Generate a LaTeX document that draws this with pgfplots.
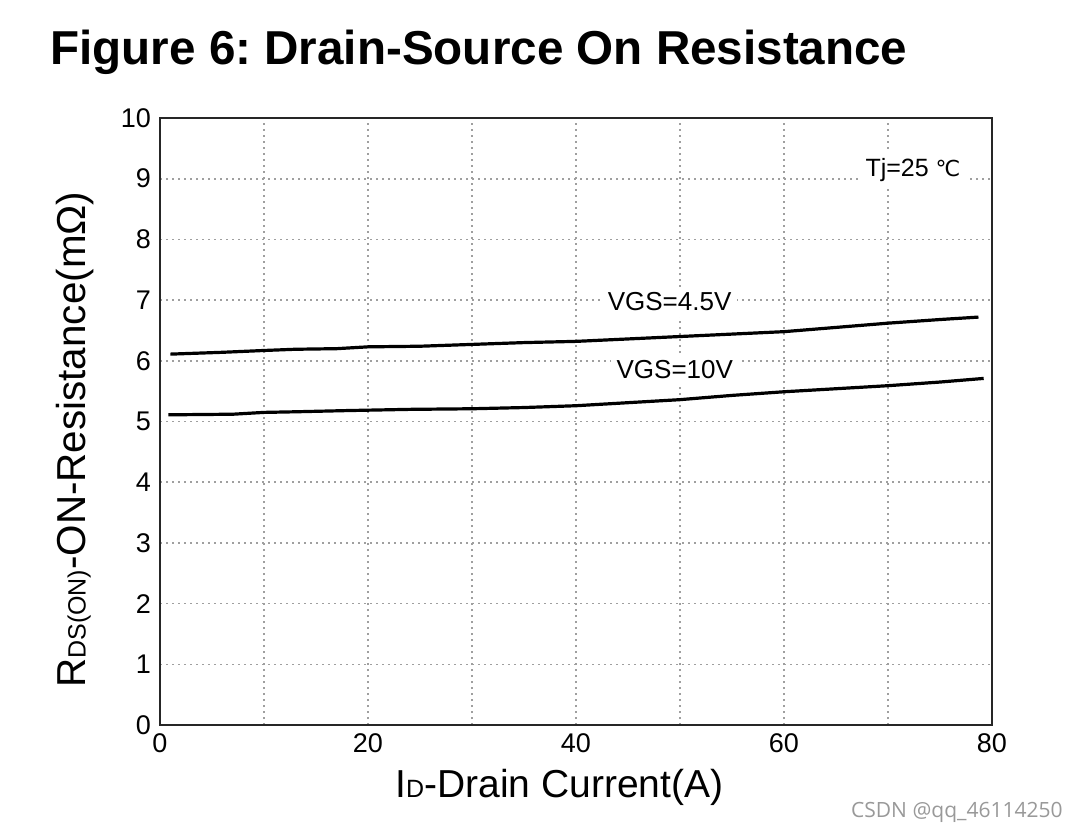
\documentclass[border=0pt]{standalone}
\usepackage{fontspec}
\setmainfont{Liberation Sans}
\newfontfamily\dejavu{DejaVu Sans}
\newfontfamily\wmfont{Open Sans}
\usepackage{pgfplots}
\pgfplotsset{compat=1.18}
\frenchspacing
\begin{document}
\begin{tikzpicture}
\useasboundingbox (-80pt,-53pt) rectangle (460pt,362.5pt);
\begin{axis}[
  at={(0,0)}, anchor=south west,
  scale only axis, width=416pt, height=303.5pt,
  xmin=0, xmax=80, ymin=0, ymax=10,
  xtick={0,10,...,80}, xticklabels={0,,20,,40,,60,,80},
  ytick={0,1,...,10},
  major tick length=0pt,
  grid=major,
  major grid style={gray!75, line width=0.8pt, dash pattern=on 1pt off 2pt},
  axis line style={black!85, line width=1.1pt},
  tick label style={font=\fontsize{13.5}{13.5}\selectfont, /pgf/number format/assume math mode=true},
  xticklabel style={yshift=-1pt},
  yticklabel style={xshift=-1pt},
  xlabel={I{\fontsize{12.5}{12.5}\selectfont D}-Drain Current(A)},
  ylabel={R{\fontsize{12.5}{12.5}\selectfont DS(ON)}-ON-Resistance(mΩ)},
  xlabel style={at={(axis description cs:0.48,-0.102)}, anchor=center, font=\fontsize{19.5}{19.5}\selectfont},
  ylabel style={at={(axis description cs:-0.102,0.47)}, anchor=center, font=\fontsize{20.2}{20.2}\selectfont},
  clip=false,
]
\addplot[black, line width=1.6pt] coordinates {
 (1,6.11) (6,6.14) (10,6.17) (13,6.19) (17,6.20) (20,6.23) (25,6.24) (30,6.27) (35,6.30) (40,6.32) (45,6.36) (50,6.40) (55,6.44) (60,6.48) (65,6.55) (70,6.62) (75,6.68) (78.7,6.72)
};
\addplot[black, line width=1.6pt] coordinates {
 (0.8,5.11) (7,5.12) (10,5.15) (13,5.16) (18,5.18) (24,5.20) (30,5.21) (35,5.23) (40,5.26) (45,5.31) (50,5.36) (55,5.43) (60,5.49) (65,5.54) (70,5.59) (75,5.65) (79.2,5.71)
};
\node[fill=white, inner sep=3pt, font=\fontsize{12.5}{12.5}\selectfont] at (axis cs:72.4,9.14) {Tj=25 {\dejavu\fontsize{11}{11}\selectfont ℃}};
\node[fill=white, inner sep=3pt, font=\fontsize{13}{13}\selectfont] at (axis cs:49.0,6.97) {VGS=4.5V};
\node[fill=white, inner sep=3pt, font=\fontsize{13}{13}\selectfont] at (axis cs:49.5,5.86) {VGS=10V};
\end{axis}
\node[anchor=base west, font=\fontsize{23.8}{23.8}\selectfont\bfseries, inner sep=0pt] at (-55pt,330pt) {Figure 6: Drain-Source On Resistance};
\node[anchor=base east, font=\wmfont\fontsize{10.5}{10.5}\selectfont, text=gray!80, inner sep=0pt] at (451.5pt,-46pt) {CSDN @qq\_46114250};
\end{tikzpicture}
\end{document}
